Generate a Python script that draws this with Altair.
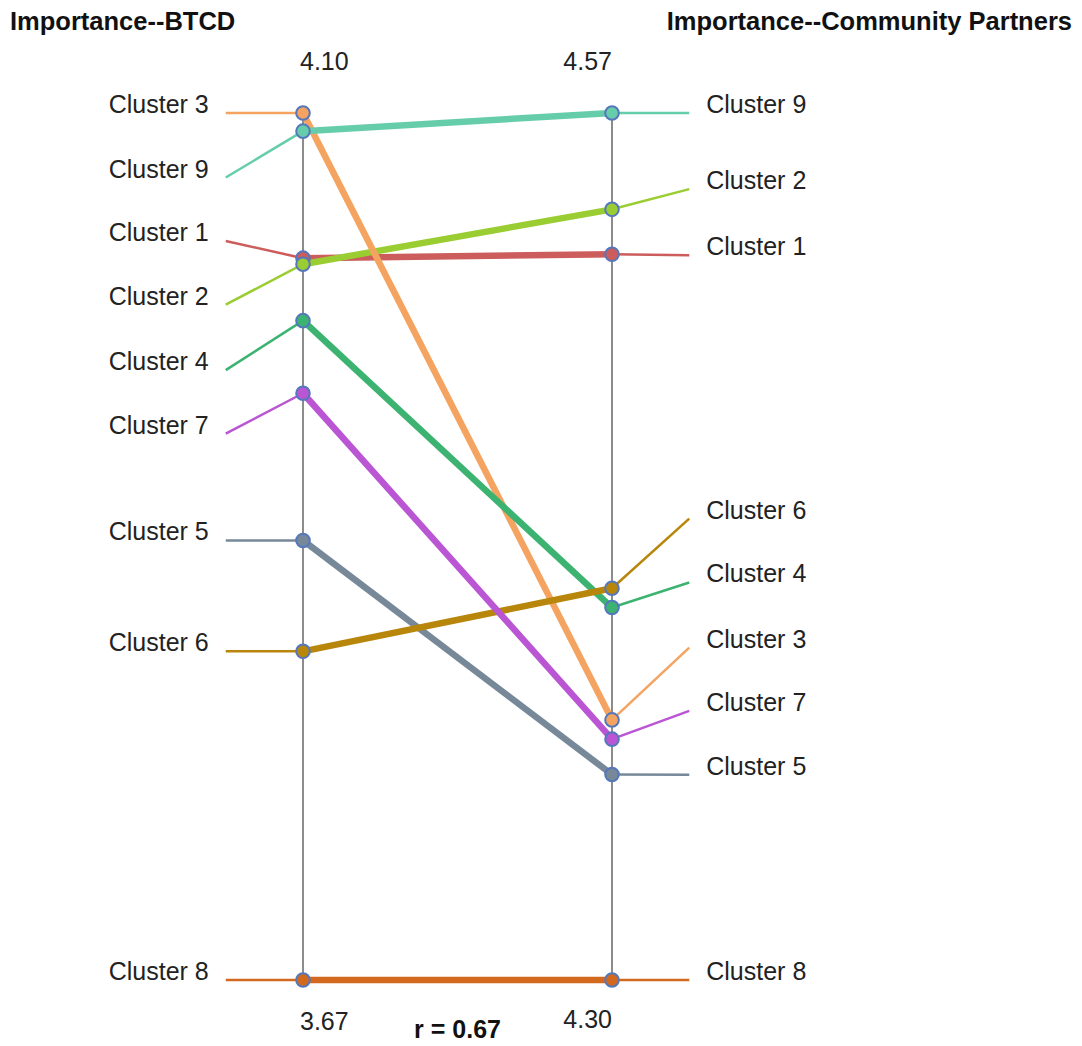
import altair as alt
import pandas as pd

# ---- data ----
clusters = ["Cluster 1", "Cluster 2", "Cluster 3", "Cluster 4", "Cluster 5",
            "Cluster 6", "Cluster 7", "Cluster 8", "Cluster 9"]
btcd = [4.028, 4.025, 4.10, 3.997, 3.888, 3.833, 3.961, 3.67, 4.091]
partners = [4.526, 4.540, 4.381, 4.416, 4.364, 4.422, 4.375, 4.30, 4.57]
# where each cluster label sits on its side (decluttered label anchors, in axis units)
btcd_label_at = [4.0365, 4.005, 4.10, 3.9725, 3.888, 3.833, 3.941, 3.67, 4.068]
partners_label_at = [4.5257, 4.5463, 4.4035, 4.4238, 4.3639, 4.4437, 4.3838, 4.30, 4.57]
btcd_range = [3.67, 4.10]
partners_range = [4.30, 4.57]
btcd_ticks = ["3.67", "4.10"]
partners_ticks = ["4.30", "4.57"]
colors = ["#CD5C5C", "#9ACD32", "#F4A460", "#3CB371", "#778899",
          "#B8860B", "#BA55D3", "#D2691E", "#66CDAA"]
r_text = "r = 0.67"
left_title = "Importance--BTCD"
right_title = "Importance--Community Partners"

FONT = "Liberation Sans"
FS = 25
TFS = 25.5


def norm(v, rng):
    return (v - rng[0]) / (rng[1] - rng[0])


df = pd.DataFrame({
    "cluster": clusters,
    "tL": [norm(v, btcd_range) for v in btcd],
    "tR": [norm(v, partners_range) for v in partners],
    "labL": [norm(v, btcd_range) for v in btcd_label_at],
    "labR": [norm(v, partners_range) for v in partners_label_at],
    "xL": 0.0, "xR": 1.0, "xLL": -0.25, "xRR": 1.25,
})

xs = alt.Scale(domain=[0, 1], range=[295, 604], nice=False, zero=False)
ys = alt.Scale(domain=[0, 1], range=[972, 105], nice=False, zero=False)
cs = alt.Scale(domain=clusters, range=colors)
col = alt.Color("cluster:N", scale=cs, legend=None)

base = alt.Chart(df)

axes_df = pd.DataFrame({"x": [0.0, 1.0], "y0": [0.0, 0.0], "y1": [1.0, 1.0]})
axes = alt.Chart(axes_df).mark_rule(color="#8c8c8c", strokeWidth=2).encode(
    x=alt.X("x:Q", scale=xs, axis=None),
    y=alt.Y("y0:Q", scale=ys, axis=None),
    y2="y1:Q",
)

stub_left = base.mark_rule(strokeWidth=2.5).encode(
    x=alt.X("xLL:Q", scale=xs, axis=None), x2="xL:Q",
    y=alt.Y("labL:Q", scale=ys, axis=None), y2="tL:Q", color=col)
stub_right = base.mark_rule(strokeWidth=2.5).encode(
    x=alt.X("xR:Q", scale=xs, axis=None), x2="xRR:Q",
    y=alt.Y("tR:Q", scale=ys, axis=None), y2="labR:Q", color=col)
main = base.mark_rule(strokeWidth=6.5).encode(
    x=alt.X("xL:Q", scale=xs, axis=None), x2="xR:Q",
    y=alt.Y("tL:Q", scale=ys, axis=None), y2="tR:Q", color=col)

pts_left = base.mark_circle(size=185, opacity=1, stroke="#5577bb", strokeWidth=2).encode(
    x=alt.X("xL:Q", scale=xs, axis=None), y=alt.Y("tL:Q", scale=ys, axis=None), color=col)
pts_right = base.mark_circle(size=185, opacity=1, stroke="#5577bb", strokeWidth=2).encode(
    x=alt.X("xR:Q", scale=xs, axis=None), y=alt.Y("tR:Q", scale=ys, axis=None), color=col)

lab_left = base.mark_text(font=FONT, fontSize=FS, align="right", baseline="middle",
                          dx=-17, dy=-8, color="#222222").encode(
    x=alt.X("xLL:Q", scale=xs, axis=None), y=alt.Y("labL:Q", scale=ys, axis=None),
    text="cluster:N")
lab_right = base.mark_text(font=FONT, fontSize=FS, align="left", baseline="middle",
                           dx=17, dy=-8, color="#222222").encode(
    x=alt.X("xRR:Q", scale=xs, axis=None), y=alt.Y("labR:Q", scale=ys, axis=None),
    text="cluster:N")

ticks_left = pd.DataFrame({"x": [0.0, 0.0], "t": [0.0, 1.0], "label": btcd_ticks})
ticks_right = pd.DataFrame({"x": [1.0, 1.0], "t": [0.0, 1.0], "label": partners_ticks})

tl_top = alt.Chart(ticks_left).transform_filter("datum.t == 1").mark_text(
    font=FONT, fontSize=FS, align="left", baseline="middle", dx=-3, dy=-51, color="#222222"
).encode(x=alt.X("x:Q", scale=xs, axis=None), y=alt.Y("t:Q", scale=ys, axis=None), text="label:N")
tl_bot = alt.Chart(ticks_left).transform_filter("datum.t == 0").mark_text(
    font=FONT, fontSize=FS, align="left", baseline="middle", dx=-3, dy=42, color="#222222"
).encode(x=alt.X("x:Q", scale=xs, axis=None), y=alt.Y("t:Q", scale=ys, axis=None), text="label:N")
tr_top = alt.Chart(ticks_right).transform_filter("datum.t == 1").mark_text(
    font=FONT, fontSize=FS, align="right", baseline="middle", dx=0, dy=-51, color="#222222"
).encode(x=alt.X("x:Q", scale=xs, axis=None), y=alt.Y("t:Q", scale=ys, axis=None), text="label:N")
tr_bot = alt.Chart(ticks_right).transform_filter("datum.t == 0").mark_text(
    font=FONT, fontSize=FS, align="right", baseline="middle", dx=0, dy=40, color="#222222"
).encode(x=alt.X("x:Q", scale=xs, axis=None), y=alt.Y("t:Q", scale=ys, axis=None), text="label:N")

r_df = pd.DataFrame({"x": [0.5], "t": [0.0], "label": [r_text]})
r_lab = alt.Chart(r_df).mark_text(
    font=FONT, fontSize=FS, fontWeight="bold", align="center", baseline="middle",
    dy=50, color="#111111"
).encode(x=alt.X("x:Q", scale=xs, axis=None), y=alt.Y("t:Q", scale=ys, axis=None), text="label:N")

title_df = pd.DataFrame({"label": [left_title]})
title_l = alt.Chart(title_df).mark_text(
    font=FONT, fontSize=TFS, fontWeight="bold", align="left", baseline="middle", color="#111111"
).encode(x=alt.value(2), y=alt.value(14), text="label:N")
title_df_r = pd.DataFrame({"label": [right_title]})
title_r = alt.Chart(title_df_r).mark_text(
    font=FONT, fontSize=TFS, fontWeight="bold", align="right", baseline="middle", color="#111111"
).encode(x=alt.value(1064), y=alt.value(14), text="label:N")

chart = alt.layer(
    axes, stub_left, stub_right, main, pts_left, pts_right,
    lab_left, lab_right, tl_top, tl_bot, tr_top, tr_bot, r_lab, title_l, title_r
).properties(
    width=1066, height=1036,
    autosize=alt.AutoSizeParams(type="none"),
    padding=0,
    background="white",
).configure_view(stroke=None)

chart.save("out.html", embed_options={"renderer": "svg", "actions": False})
